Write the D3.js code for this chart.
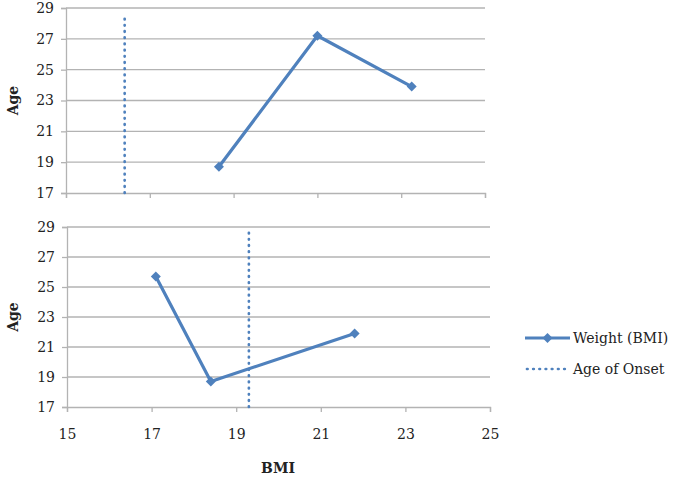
<!DOCTYPE html>
<html>
<head>
<meta charset="utf-8">
<script src="https://cdn.jsdelivr.net/npm/d3@7"></script>
<style>
	html, body { margin: 0; padding: 0; background: #fff; }
	svg { display: block; }
	text { font-family: "DejaVu Serif", "Liberation Serif", serif; fill: #222; }
</style>
</head>
<body>
<div id="chart"></div>
<script>
// data
var bmiTicks = [15, 17, 19, 21, 23, 25];
var ageTicks = [17, 19, 21, 23, 25, 27, 29];

var topBmi = [18.65, 21.0, 23.25];
var topAge = [18.7, 27.2, 23.9];
var topOnsetBmi = [16.4, 16.4];
var topOnsetAge = [17, 28.6];

var bottomBmi = [17.1, 18.4, 21.8];
var bottomAge = [25.7, 18.7, 21.9];
var bottomOnsetBmi = [19.3, 19.3];
var bottomOnsetAge = [17, 28.9];

var legendLabels = ["Weight (BMI)", "Age of Onset"];

var blue = "#4f81bd";
var grid = "#b3b3b3";
var font = "'DejaVu Serif', serif";

var svg = d3.select("#chart").append("svg")
	.attr("width", 674)
	.attr("height", 479);

function marker(sel) {
	return sel.attr("d", d3.symbol().type(d3.symbolSquare).size(50)).attr("fill", blue);
}

function dotted(sel) {
	return sel.attr("stroke", blue)
		.attr("stroke-width", 2.7)
		.attr("stroke-linecap", "round")
		.attr("stroke-dasharray", "0.6,5.6");
}

function panel(box, bmi, age, onsetBmi, onsetAge, showLabels) {
	var x = d3.scaleLinear().domain([bmiTicks[0], bmiTicks[bmiTicks.length - 1]]).range([box.left, box.right]);
	var y = d3.scaleLinear().domain([ageTicks[0], ageTicks[ageTicks.length - 1]]).range([box.bottom, box.top]);
	var line = d3.line().x(function(d) { return x(d[0]); }).y(function(d) { return y(d[1]); });
	var g = svg.append("g");

	// horizontal gridlines
	g.selectAll(".grid").data(ageTicks.slice(1)).enter().append("line")
		.attr("x1", box.left).attr("x2", box.right)
		.attr("y1", function(d) { return y(d); })
		.attr("y2", function(d) { return y(d); })
		.attr("stroke", grid).attr("stroke-width", 1.3);

	// y axis
	var ya = g.append("g").attr("transform", "translate(" + box.left + ",0)")
		.call(d3.axisLeft(y).tickValues(ageTicks).tickSize(5).tickPadding(7).tickFormat(d3.format("d")));
	ya.select(".domain").attr("stroke", grid).attr("stroke-width", 1.3);
	ya.selectAll(".tick line").attr("stroke", grid).attr("stroke-width", 1.3);
	ya.selectAll("text").attr("font-size", 14).attr("fill", "#222").attr("font-family", font);

	// x axis
	var xa = g.append("g").attr("transform", "translate(0," + box.bottom + ")")
		.call(d3.axisBottom(x).tickValues(bmiTicks).tickSize(5).tickPadding(17).tickFormat(showLabels ? d3.format("d") : ""));
	xa.select(".domain").attr("stroke", grid).attr("stroke-width", 1.3);
	xa.selectAll(".tick line").attr("stroke", grid).attr("stroke-width", 1.3);
	xa.selectAll("text").attr("font-size", 14).attr("fill", "#222").attr("font-family", font);

	// age of onset
	var onset = onsetBmi.map(function(d, i) { return [d, onsetAge[i]]; });
	g.append("path").datum(onset).attr("fill", "none").attr("d", line).call(dotted);

	// weight series
	var pts = bmi.map(function(d, i) { return [d, age[i]]; });
	g.append("path")
		.datum(pts)
		.attr("fill", "none")
		.attr("stroke", blue)
		.attr("stroke-width", 3.2)
		.attr("stroke-linejoin", "round")
		.attr("d", line);

	g.selectAll(".pt").data(pts).enter().append("path")
		.call(marker)
		.attr("transform", function(d) { return "translate(" + x(d[0]) + "," + y(d[1]) + ") rotate(45)"; });

	// y title
	g.append("text")
		.attr("transform", "translate(18," + ((box.top + box.bottom) / 2) + ") rotate(-90)")
		.attr("text-anchor", "middle")
		.attr("font-size", 14)
		.attr("font-weight", "bold")
		.text("Age");
}

panel({ left: 66, right: 485, top: 8, bottom: 193 }, topBmi, topAge, topOnsetBmi, topOnsetAge, false);
panel({ left: 67, right: 490, top: 227, bottom: 407 }, bottomBmi, bottomAge, bottomOnsetBmi, bottomOnsetAge, true);

svg.append("text")
	.attr("x", 278).attr("y", 473)
	.attr("text-anchor", "middle")
	.attr("font-size", 14)
	.attr("font-weight", "bold")
	.text("BMI");

// legend
var legend = svg.append("g").attr("transform", "translate(525,338)");
legend.append("line").attr("x1", 0).attr("x2", 45).attr("y1", 0).attr("y2", 0)
	.attr("stroke", blue).attr("stroke-width", 3.2);
legend.append("path").call(marker).attr("transform", "translate(22.5,0) rotate(45)");
legend.append("line").attr("x1", 2).attr("x2", 45).attr("y1", 31).attr("y2", 31).call(dotted);
legend.selectAll(".lbl").data(legendLabels).enter().append("text")
	.attr("x", 48)
	.attr("y", function(d, i) { return i * 31 + 5; })
	.attr("font-size", 14)
	.text(function(d) { return d; });
</script>
</body>
</html>
